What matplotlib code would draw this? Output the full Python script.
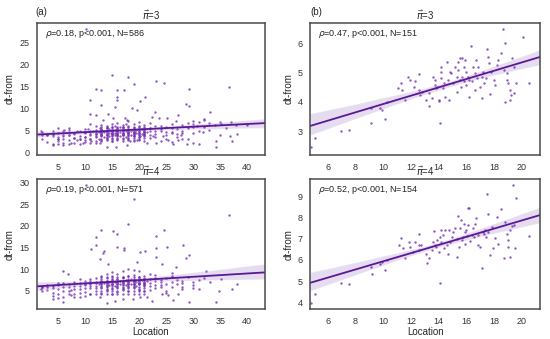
import numpy as np
import matplotlib
matplotlib.use("Agg")
import matplotlib.pyplot as plt
import seaborn as sns

# ---------------- DATA ----------------
# panel (a), pi=3 : scattered (Location, dt-from) points
a3_points = [
    (10.1, 28.0), (15.0, 17.6), (18.0, 17.1), (19.1, 15.6), (12.0, 14.5), (13.0, 14.1),
    (15.9, 14.1), (15.9, 12.7), (17.2, 14.1), (23.1, 16.1), (24.6, 15.7), (29.2, 14.5),
    (36.7, 14.8), (11.0, 12.0), (21.1, 12.5), (20.2, 11.6), (15.9, 12.0), (18.7, 10.1),
    (13.0, 10.7), (15.5, 10.3), (19.7, 9.7), (28.7, 11.1), (29.3, 10.6), (33.1, 9.3),
    (32.0, 7.7), (27.2, 8.6), (22.9, 9.3), (23.7, 7.8), (11.0, 8.8), (12.1, 8.6),
    (14.3, 8.8), (13.3, 7.5), (15.2, 7.8), (17.4, 7.8), (17.7, 7.5), (22.3, 8.1),
    (25.1, 7.8), (26.9, 7.1), (30.7, 6.1), (35.2, 6.6), (36.9, 3.7), (38.1, 4.3),
    (34.3, 2.6), (34.2, 1.4), (37.2, 2.6), (31.9, 4.6), (30.0, 2.2), (28.9, 2.0),
    (31.1, 2.0), (27.8, 4.1), (27.2, 2.9), (26.3, 2.0), (26.0, 4.4), (25.4, 2.9),
    (24.4, 3.7), (23.2, 2.2), (22.6, 3.7), (21.4, 2.2), (20.2, 3.7), (19.6, 2.9),
    (18.4, 2.6), (17.7, 1.8), (15.8, 1.4), (14.1, 1.4), (12.7, 2.2), (11.2, 2.6),
    (9.6, 2.2), (8.5, 2.9), (7.5, 2.2), (6.0, 1.8), (5.0, 2.6), (4.0, 1.8),
    (4.0, 3.7), (5.9, 3.7), (6.2, 5.2), (5.0, 5.6), (1.9, 4.8), (7.0, 5.6),
    (8.5, 5.0), (9.9, 4.6), (10.6, 5.3), (11.5, 4.8), (12.1, 4.4), (12.7, 5.6),
    (13.3, 4.8), (2.0, 4.7), (3.0, 4.1), (4.0, 4.3), (4.0, 5.0), (5.0, 4.5),
    (5.0, 3.2), (6.0, 4.8), (6.0, 3.0), (7.0, 4.0), (7.0, 5.2), (8.0, 4.4),
    (8.0, 3.4), (9.0, 4.9), (9.0, 3.0), (10.0, 4.6), (10.0, 5.4), (10.0, 3.5),
    (11.0, 4.2), (11.0, 5.0), (11.0, 3.1), (11.0, 6.5), (12.0, 3.5), (12.0, 4.2),
    (12.0, 5.1), (12.0, 6.0), (12.5, 4.6), (12.5, 3.1), (13.0, 4.0), (13.0, 5.4),
    (13.0, 6.3), (13.0, 2.8), (13.5, 4.7), (13.5, 3.6), (14.0, 5.0), (14.0, 4.1),
    (14.0, 6.1), (14.0, 3.2), (14.0, 5.6), (14.5, 4.4), (14.5, 5.3), (14.5, 3.8),
    (15.0, 4.9), (15.0, 5.7), (15.0, 4.2), (15.0, 3.4), (15.0, 6.4), (15.0, 2.6),
    (15.5, 5.1), (15.5, 4.5), (15.5, 3.9), (15.5, 6.0), (16.0, 4.8), (16.0, 5.5),
    (16.0, 4.0), (16.0, 3.3), (16.0, 6.8), (16.0, 5.1), (16.5, 4.6), (16.5, 5.8),
    (16.5, 3.7), (17.0, 5.2), (17.0, 4.3), (17.0, 6.2), (17.0, 3.0), (17.0, 5.7),
    (17.5, 4.9), (17.5, 3.6), (17.5, 6.5), (18.0, 5.3), (18.0, 4.5), (18.0, 6.0),
    (18.0, 3.4), (18.0, 7.1), (18.5, 5.0), (18.5, 4.1), (19.0, 5.6), (19.0, 4.7),
    (19.0, 3.8), (19.0, 6.6), (19.0, 2.9), (19.5, 5.2), (19.5, 4.4), (20.0, 5.9),
    (20.0, 4.9), (20.0, 3.6), (20.0, 7.0), (20.5, 5.4), (20.5, 4.2), (21.0, 5.1),
    (21.0, 6.3), (21.0, 3.9), (21.5, 4.6), (22.0, 5.5), (22.0, 4.0), (22.0, 6.8),
    (23.0, 5.0), (23.0, 3.5), (24.0, 5.3), (24.0, 6.0), (25.0, 4.7), (25.0, 3.2),
    (26.0, 5.6), (26.0, 2.5), (27.0, 4.2), (28.0, 5.0), (28.0, 3.0), (30.0, 4.5),
    (30.0, 5.8), (33.0, 5.2), (35.0, 4.0), (38.0, 6.2),
]
# panel (a), pi=3 : dense stacks, dt-from values per Location column
a3_stacks = {
    2: [4.0, 3.2], 3: [4.1, 2.4], 4: [4.2, 2.0], 5: [3.6, 3.0, 1.9], 6: [3.9, 2.3],
    7: [2.9, 4.1, 2.0], 8: [4.2, 2.2, 3.4], 9: [3.8, 2.0, 3.2], 10: [3.5, 2.4, 4.4, 2.8],
    11: [4.0, 3.2, 2.1, 4.7], 12: [4.3, 2.6, 3.8, 2.2, 4.8],
    13: [3.2, 3.7, 4.0, 4.3, 4.5, 4.7, 4.9, 5.1, 5.4, 5.8, 2.7, 4.4],
    14: [3.3, 3.6, 4.1, 4.3, 4.6, 4.8, 4.9, 5.2, 5.5, 5.9, 2.8, 4.4],
    15: [3.2, 3.8, 4.0, 4.2, 4.5, 4.7, 5.0, 5.1, 5.3, 5.8, 2.7, 4.4],
    16: [3.1, 3.7, 4.1, 4.4, 4.5, 4.6, 4.9, 5.2, 5.4, 5.7, 2.9, 4.3],
    17: [3.3, 3.9, 4.0, 4.3, 4.5, 4.8, 4.9, 5.1, 5.5, 5.9, 2.6, 4.4],
    18: [3.2, 3.7, 4.1, 4.3, 4.6, 4.7, 5.0, 5.2, 5.4, 5.8, 2.8, 4.5],
    19: [3.4, 3.7, 4.0, 4.2, 4.5, 4.7, 4.9, 5.1, 5.6, 5.8, 2.7, 4.4],
    20: [3.2, 3.6, 4.0, 4.4, 4.5, 4.8, 4.9, 5.3, 5.4, 6.0, 2.9, 4.3],
    21: [3.3, 3.8, 4.1, 4.3, 4.6, 4.7, 5.0, 5.1, 5.5, 5.8, 2.7, 4.4],
    22: [4.8, 5.6, 3.3], 23: [4.2, 6.1], 24: [2.6, 4.9], 25: [5.7, 3.9], 26: [4.7, 6.4],
    27: [5.3, 3.6], 28: [6.2, 4.4], 29: [5.5, 3.1, 6.8], 30: [6.6, 7.2], 31: [4.9, 6.9],
    32: [5.9, 7.4], 33: [6.8], 34: [6.2], 35: [7.0], 36: [5.6], 37: [6.9], 40: [6.3],
}

# panel (a), pi=4
a4_points = [
    (10.1, 29.4), (19.1, 26.2), (36.7, 22.5), (18.0, 20.4), (13.0, 19.0), (15.2, 18.8),
    (16.0, 18.1), (24.6, 19.0), (12.0, 17.5), (23.1, 17.6), (12.0, 15.5), (15.9, 15.2),
    (17.2, 14.9), (17.2, 14.4), (25.1, 15.2), (28.2, 15.5), (11.2, 14.6), (13.3, 13.8),
    (13.6, 14.2), (21.1, 14.2), (20.2, 14.0), (23.1, 14.9), (29.3, 13.2), (28.6, 12.6),
    (23.1, 12.8), (12.7, 12.3), (14.3, 11.2), (19.6, 11.7), (24.2, 11.2), (26.9, 10.5),
    (32.3, 9.6), (5.9, 9.6), (6.9, 8.8), (9.0, 7.8), (33.1, 7.1), (35.1, 7.8),
    (38.1, 6.7), (37.2, 5.4), (34.8, 4.9), (34.3, 2.5), (29.2, 2.5), (31.1, 5.4),
    (30.0, 5.7), (28.0, 5.4), (27.2, 4.4), (26.2, 2.8), (25.4, 4.0), (24.2, 4.4),
    (22.3, 2.6), (21.4, 3.6), (20.2, 3.6), (18.9, 3.1), (17.0, 3.2), (15.5, 2.6),
    (14.1, 2.3), (12.7, 3.6), (10.9, 4.4), (9.0, 3.6), (7.5, 4.0), (5.9, 2.5),
    (4.1, 3.2), (4.0, 4.6), (1.9, 5.5), (5.0, 6.9), (7.5, 5.2), (2.0, 5.9),
    (3.0, 6.0), (4.0, 5.6), (5.0, 6.4), (5.0, 4.2), (6.0, 6.0), (6.0, 3.6),
    (7.0, 6.5), (7.0, 5.0), (8.0, 6.2), (8.0, 4.3), (9.0, 6.8), (9.0, 5.5),
    (10.0, 6.3), (10.0, 7.3), (10.0, 4.8), (11.0, 6.7), (11.0, 5.6), (11.0, 7.8),
    (12.0, 6.2), (12.0, 7.0), (12.0, 5.0), (12.0, 8.0), (12.5, 6.6), (13.0, 7.2),
    (13.0, 5.8), (13.0, 8.5), (13.0, 4.6), (13.5, 6.9), (14.0, 7.4), (14.0, 6.1),
    (14.0, 8.8), (14.0, 5.2), (14.5, 7.0), (14.5, 6.4), (15.0, 7.6), (15.0, 6.7),
    (15.0, 5.5), (15.0, 8.3), (15.0, 9.4), (15.0, 4.4), (15.5, 7.1), (15.5, 6.2),
    (16.0, 7.8), (16.0, 6.9), (16.0, 5.9), (16.0, 9.0), (16.0, 4.8), (16.5, 7.3),
    (16.5, 6.5), (17.0, 8.1), (17.0, 7.0), (17.0, 5.6), (17.0, 9.7), (17.5, 7.5),
    (17.5, 6.3), (18.0, 8.4), (18.0, 7.2), (18.0, 6.0), (18.0, 10.0), (18.0, 4.9),
    (18.5, 7.7), (18.5, 6.6), (19.0, 8.7), (19.0, 7.4), (19.0, 5.8), (19.0, 9.9),
    (19.5, 7.1), (19.5, 6.2), (20.0, 8.2), (20.0, 6.8), (20.0, 5.3), (20.0, 9.5),
    (20.5, 7.6), (21.0, 8.0), (21.0, 6.5), (21.0, 4.9), (21.5, 7.3), (22.0, 7.8),
    (22.0, 6.1), (22.0, 9.0), (23.0, 7.2), (23.0, 5.6), (23.0, 8.6), (24.0, 7.5),
    (24.0, 6.3), (25.0, 7.9), (25.0, 5.0), (26.0, 7.0), (26.0, 8.4), (27.0, 6.6),
    (28.0, 7.4), (28.0, 5.8), (30.0, 7.1), (32.0, 8.0),
]
a4_stacks = {
    2: [5.8, 4.9], 3: [5.2, 6.4], 4: [6.1, 3.9], 5: [5.5, 3.4], 6: [5.1, 6.8],
    7: [4.2, 6.0], 8: [5.4, 7.0, 3.7], 9: [4.6, 6.2], 10: [5.7, 3.9, 6.6],
    11: [4.4, 6.1, 7.2], 12: [5.6, 4.2, 6.9],
    13: [5.0, 5.6, 6.1, 6.5, 6.8, 7.1, 7.4, 7.8, 8.3, 4.3, 6.6, 7.0],
    14: [5.1, 5.5, 6.0, 6.4, 6.9, 7.2, 7.3, 7.9, 8.2, 4.4, 6.7, 6.9],
    15: [5.0, 5.7, 6.2, 6.5, 6.7, 7.0, 7.5, 7.7, 8.4, 4.2, 6.5, 7.1],
    16: [4.9, 5.6, 6.1, 6.6, 6.8, 7.1, 7.4, 7.8, 8.3, 4.3, 6.6, 7.0],
    17: [5.2, 5.5, 6.0, 6.4, 6.9, 7.2, 7.3, 7.9, 8.2, 4.4, 6.7, 6.9],
    18: [5.0, 5.6, 6.2, 6.5, 6.8, 7.0, 7.5, 7.8, 8.4, 4.3, 6.6, 7.1],
    19: [5.1, 5.7, 6.1, 6.6, 6.7, 7.1, 7.4, 7.7, 8.3, 4.2, 6.5, 7.0],
    20: [4.9, 5.5, 6.0, 6.5, 6.9, 7.2, 7.3, 7.9, 8.2, 4.4, 6.7, 6.9],
    21: [5.0, 5.6, 6.2, 6.4, 6.8, 7.0, 7.5, 7.8, 8.4, 4.3, 6.6, 7.1],
    22: [6.8, 5.2], 23: [6.4, 7.9], 24: [5.8, 7.0], 25: [6.6, 4.5], 26: [6.0, 9.2],
    27: [7.6], 28: [6.9], 29: [8.1], 30: [6.3], 31: [7.5],
}

# panel (b), pi=3
b3_points = [
    (4.8, 2.47), (5.1, 2.78), (6.96, 3.02), (7.56, 3.06), (9.14, 3.27), (9.12, 3.81),
    (9.8, 3.78), (9.9, 3.74), (10.1, 3.41), (10.25, 4.0), (11.1, 4.46), (11.3, 4.63),
    (11.35, 4.4), (11.6, 4.06), (11.8, 4.86), (11.9, 4.75), (12.2, 4.52), (12.3, 4.7),
    (12.55, 4.95), (12.55, 4.4), (12.65, 4.24), (12.8, 4.35), (13.1, 4.06), (13.3, 3.86),
    (13.3, 4.3), (13.5, 4.12), (13.6, 4.86), (13.7, 4.75), (13.75, 4.58), (13.8, 4.46),
    (13.85, 4.52), (14.0, 4.06), (14.1, 3.27), (14.05, 4.03), (14.15, 5.2), (14.2, 5.03),
    (14.2, 4.8), (14.3, 4.46), (14.35, 4.63), (14.45, 4.18), (14.6, 5.37), (14.7, 4.75),
    (14.75, 4.06), (14.8, 5.03), (14.9, 5.0), (15.05, 4.63), (15.2, 5.2), (15.3, 4.86),
    (15.3, 4.35), (15.4, 5.37), (15.4, 5.09), (15.5, 4.75), (15.55, 5.49), (15.6, 4.52),
    (15.65, 4.86), (15.7, 5.49), (15.8, 4.7), (15.85, 5.2), (15.9, 5.43), (15.95, 5.03),
    (16.0, 4.58), (16.1, 4.86), (16.15, 4.18), (16.2, 4.75), (16.3, 5.91), (16.4, 4.7),
    (16.5, 5.2), (16.6, 4.4), (16.6, 4.97), (16.7, 5.43), (16.75, 4.8), (16.85, 5.2),
    (17.0, 4.52), (17.1, 4.12), (17.15, 4.86), (17.2, 5.03), (17.25, 4.63), (17.4, 4.83),
    (17.5, 5.81), (17.55, 5.54), (17.6, 5.32), (17.7, 4.27), (17.8, 5.03), (17.95, 4.75),
    (18.05, 4.58), (18.2, 5.26), (18.3, 5.43), (18.5, 5.66), (18.66, 6.49), (18.7, 5.09),
    (18.8, 4.0), (18.8, 6.0), (18.9, 4.75), (18.95, 4.97), (19.0, 4.63), (19.1, 4.06),
    (19.1, 4.4), (19.2, 4.24), (19.3, 5.49), (19.4, 5.2), (19.45, 4.3), (19.55, 4.63),
    (20.05, 6.19), (20.5, 4.63),
]

# panel (b), pi=4
b4_points = [
    (4.8, 4.0), (5.1, 4.38), (6.96, 4.92), (7.56, 4.89), (9.14, 5.65), (9.17, 5.36),
    (9.8, 5.79), (9.9, 5.91), (10.15, 5.54), (10.27, 5.99), (11.15, 6.7), (11.28, 7.01),
    (11.4, 6.57), (11.6, 6.07), (11.83, 6.82), (11.92, 6.62), (12.14, 6.38), (12.3, 6.85),
    (12.55, 7.21), (12.55, 6.7), (12.6, 6.46), (12.75, 6.7), (13.07, 6.26), (13.15, 5.87),
    (13.27, 6.07), (13.5, 6.46), (13.58, 6.85), (13.67, 7.35), (13.72, 6.7), (13.8, 6.62),
    (13.87, 6.93), (13.99, 6.38), (14.08, 4.94), (14.1, 7.09), (14.15, 7.4), (14.2, 6.82),
    (14.3, 7.16), (14.35, 6.54), (14.47, 7.4), (14.6, 6.7), (14.7, 6.3), (14.75, 7.4),
    (14.8, 6.85), (14.95, 7.09), (15.06, 7.32), (15.18, 7.48), (15.3, 6.15), (15.35, 6.98),
    (15.4, 8.08), (15.47, 6.62), (15.55, 7.48), (15.62, 7.88), (15.67, 6.93), (15.74, 7.09),
    (15.8, 7.71), (15.86, 7.32), (15.9, 6.73), (15.98, 7.4), (16.02, 7.13), (16.1, 7.64),
    (16.14, 8.45), (16.2, 8.42), (16.26, 6.88), (16.38, 7.17), (16.45, 7.48), (16.55, 7.09),
    (16.62, 7.71), (16.7, 7.95), (16.8, 6.7), (16.86, 7.17), (16.98, 6.62), (17.1, 5.6),
    (17.17, 7.32), (17.27, 7.24), (17.34, 7.4), (17.41, 7.09), (17.49, 9.08), (17.53, 8.17),
    (17.58, 7.32), (17.7, 6.23), (17.82, 7.56), (17.94, 6.54), (18.06, 7.01), (18.18, 8.0),
    (18.3, 6.77), (18.5, 8.39), (18.73, 6.07), (18.78, 7.76), (18.9, 7.24), (18.97, 6.62),
    (19.02, 6.93), (19.1, 6.15), (19.14, 7.4), (19.3, 7.6), (19.33, 9.52), (19.4, 7.64),
    (19.5, 6.54), (19.55, 8.9), (20.5, 7.12),
]

titles = [r'$\vec{\pi}$=3', r'$\vec{\pi}$=4']
stats_a = [r'$\rho$=0.18, p<0.001, N=586', r'$\rho$=0.19, p<0.001, N=571']
stats_b = [r'$\rho$=0.47, p<0.001, N=151', r'$\rho$=0.52, p<0.001, N=154']


def with_stacks(points, stacks=None):
    pts = list(points)
    if stacks:
        for loc, vals in stacks.items():
            pts += [(loc, v) for v in vals]
    return np.array(pts).T


# ---------------- STYLE ----------------
sns.set_style("white")
plt.rcParams['font.family'] = ['Liberation Sans', 'DejaVu Sans']
plt.rcParams['mathtext.fontset'] = 'dejavusans'

PT_COLOR = '#7431b3'
LINE_COLOR = '#5a1896'
FS = 6.5

fig = plt.figure(figsize=(5.5, 3.39), dpi=100)

# axes boxes [left, bottom, width, height]
boxes = {
    'a3': [0.067, 0.543, 0.415, 0.389],
    'a4': [0.067, 0.088, 0.415, 0.384],
    'b3': [0.564, 0.543, 0.418, 0.389],
    'b4': [0.564, 0.088, 0.418, 0.384],
}
limits = {
    'a3': ((1.1, 43.3), (-0.5, 29.3)),
    'a4': ((1.1, 43.3), (0.8, 30.8)),
    'b3': ((4.75, 21.3), (2.2, 6.68)),
    'b4': ((4.75, 21.3), (3.69, 9.8)),
}
panels = [
    ('a3', with_stacks(a3_points, a3_stacks), titles[0], stats_a[0],
     np.arange(5, 41, 5), np.arange(0, 26, 5)),
    ('a4', with_stacks(a4_points, a4_stacks), titles[1], stats_a[1],
     np.arange(5, 41, 5), np.arange(5, 31, 5)),
    ('b3', with_stacks(b3_points), titles[0], stats_b[0],
     np.arange(6, 21, 2), np.arange(3, 7, 1)),
    ('b4', with_stacks(b4_points), titles[1], stats_b[1],
     np.arange(6, 21, 2), np.arange(4, 10, 1)),
]

for key, (xs, ys), title, stat, xt, yt in panels:
    ax = fig.add_axes(boxes[key])
    ax.set_xlim(limits[key][0])
    ax.set_ylim(limits[key][1])
    sns.regplot(x=xs, y=ys, ax=ax, seed=0, truncate=False,
                scatter_kws=dict(s=3, color=PT_COLOR, linewidths=0),
                line_kws=dict(color=LINE_COLOR, lw=1.3))
    ax.set_xlim(limits[key][0])
    ax.set_ylim(limits[key][1])
    ax.set_xticks(xt)
    ax.set_yticks(yt)
    ax.tick_params(labelsize=FS, colors='#333333', pad=2)
    for sp in ax.spines.values():
        sp.set_color('#4a4a4a')
        sp.set_linewidth(1.1)
    ax.set_title(title, fontsize=FS + 0.5, pad=2)
    ax.text(0.035, 0.915, stat, transform=ax.transAxes, fontsize=FS,
            va='center', ha='left', color='#222222')
    ax.set_ylabel('dt-from', fontsize=FS + 0.5, labelpad=3)
    if key.endswith('4'):
        ax.set_xlabel('Location', fontsize=FS + 0.5, labelpad=1)

fig.text(0.064, 0.965, '(a)', fontsize=FS + 0.5, va='center')
fig.text(0.565, 0.965, '(b)', fontsize=FS + 0.5, va='center')

fig.savefig('out.png', dpi=100)
